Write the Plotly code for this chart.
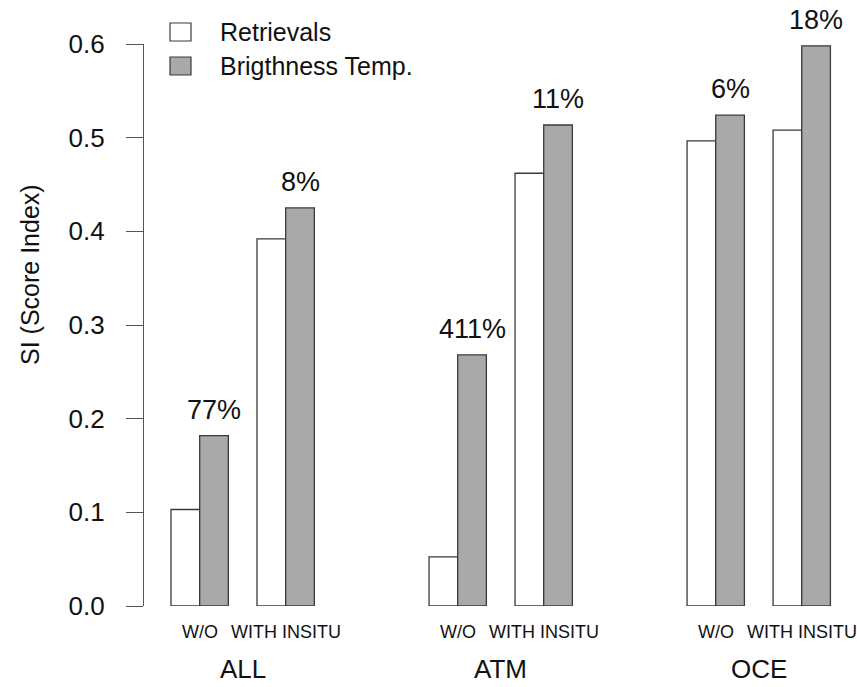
import plotly.graph_objects as go

# --- data -----------------------------------------------------------------
groups = ["ALL", "ATM", "OCE"]
subgroups = ["W/O", "WITH INSITU"]
retrievals = [0.103, 0.392, 0.0524, 0.462, 0.4965, 0.508]
brightness_temp = [0.182, 0.425, 0.268, 0.5135, 0.524, 0.598]
gain_labels = ["77%", "8%", "411%", "11%", "6%", "18%"]
series_names = ["Retrievals", "Brigthness Temp."]
y_ticks = [0.0, 0.1, 0.2, 0.3, 0.4, 0.5, 0.6]

# --- layout constants -------------------------------------------------------
W, H = 857, 687
M_L, M_R, M_T, M_B = 144, 10, 44, 81
PLOT_W = W - M_L - M_R
PLOT_H = H - M_T - M_B
UNIT_PX = 28.67            # one bar width in pixels
FIRST_BAR_PX = 171         # left edge of the first bar
FONT = "Liberation Sans, Arial, Helvetica, sans-serif"
GRAY = "#a9a9a9"
EDGE = "#3a3a3a"
AXIS = "#555555"

# pair centres in bar units: pairs are 2 wide, 1 unit apart, groups 4 units apart
pair_x = [g * 9 + s * 3 + 1 for g in range(len(groups)) for s in range(len(subgroups))]
group_x = [g * 9 + 2.5 for g in range(len(groups))]
x_lo = (M_L - FIRST_BAR_PX) / UNIT_PX
x_hi = x_lo + PLOT_W / UNIT_PX


def px_to_paper_x(px):
    return (px - M_L) / PLOT_W


def px_to_paper_y(py):
    return (M_T + PLOT_H - py) / PLOT_H


fig = go.Figure()
fig.add_trace(go.Bar(
    x=pair_x, y=retrievals, name=series_names[0], width=1, offset=-1,
    marker=dict(color="white", line=dict(color=EDGE, width=1.3)),
    showlegend=False,
))
fig.add_trace(go.Bar(
    x=pair_x, y=brightness_temp, name=series_names[1], width=1, offset=0,
    marker=dict(color=GRAY, line=dict(color=EDGE, width=1.3)),
    showlegend=False,
))

annotations = []
# improvement labels above the brightness-temperature bars
for xc, v, lab in zip(pair_x, brightness_temp, gain_labels):
    annotations.append(dict(
        x=xc + 0.5, y=v, xref="x", yref="y", text=lab, showarrow=False,
        yanchor="bottom", yshift=9, font=dict(family=FONT, size=27, color="#111"),
    ))
# subgroup labels under each pair
for i, xc in enumerate(pair_x):
    annotations.append(dict(
        x=xc, y=px_to_paper_y(632), xref="x", yref="paper",
        text=subgroups[i % len(subgroups)], showarrow=False, yanchor="middle",
        font=dict(family=FONT, size=18, color="#111"),
    ))
# group labels
for xc, g in zip(group_x, groups):
    annotations.append(dict(
        x=xc, y=px_to_paper_y(669), xref="x", yref="paper", text=g,
        showarrow=False, yanchor="middle",
        font=dict(family=FONT, size=26, color="#111"),
    ))
# y-axis title
annotations.append(dict(
    x=px_to_paper_x(30), y=px_to_paper_y(275), xref="paper", yref="paper",
    text="SI (Score Index)", textangle=-90, showarrow=False,
    xanchor="center", yanchor="middle",
    font=dict(family=FONT, size=25, color="#111"),
))

# legend drawn as boxes + labels
shapes = []
legend_rows = [(23, 41, "white"), (57, 75, GRAY)]
for (top, bot, col), name in zip(legend_rows, series_names):
    shapes.append(dict(
        type="rect", xref="paper", yref="paper",
        x0=px_to_paper_x(170), x1=px_to_paper_x(191),
        y0=px_to_paper_y(bot), y1=px_to_paper_y(top),
        fillcolor=col, line=dict(color=EDGE, width=1.2),
    ))
    annotations.append(dict(
        x=px_to_paper_x(218), y=px_to_paper_y((top + bot) / 2),
        xref="paper", yref="paper", text=name, showarrow=False,
        xanchor="left", yanchor="middle",
        font=dict(family=FONT, size=25, color="#111"),
    ))

fig.update_layout(
    width=W, height=H,
    margin=dict(l=M_L, r=M_R, t=M_T, b=M_B),
    paper_bgcolor="white", plot_bgcolor="white",
    barmode="overlay",
    annotations=annotations, shapes=shapes,
    xaxis=dict(range=[x_lo, x_hi], visible=False, fixedrange=True),
    yaxis=dict(
        range=[0, 0.6], tickvals=y_ticks, tickformat=".1f",
        showline=True, linecolor=AXIS, linewidth=1.3,
        ticks="outside", ticklen=17, tickcolor=AXIS, tickwidth=1.3,
        ticklabelstandoff=16,
        showgrid=False, zeroline=False,
        tickfont=dict(family=FONT, size=26, color="#111"),
    ),
)

fig.write_html("out.html")
